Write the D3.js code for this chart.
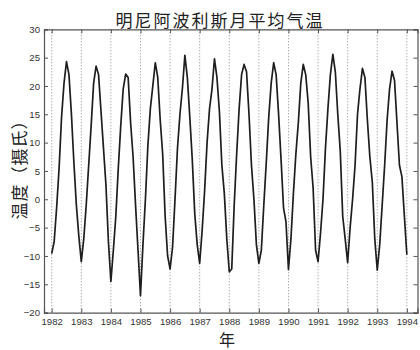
<!DOCTYPE html>
<html>
<head>
<meta charset="utf-8">
<script src="https://cdn.jsdelivr.net/npm/d3@7"></script>
<style>
  html, body { margin: 0; padding: 0; background: #fff; }
  svg { display: block; }
</style>
</head>
<body>
<svg id="chart" width="420" height="350"></svg>
<script>
// Monthly mean temperature (°C), January to December
const t1982 = [-9.6, -7.5, -1.5, 5.5, 14.5, 20.5, 24.3, 22.0, 15.0, 6.5, -1.0, -6.5];
const t1983 = [-11.0, -7.0, -1.0, 6.0, 13.0, 20.5, 23.5, 22.0, 15.5, 9.0, 2.5, -7.5];
const t1984 = [-14.5, -9.0, -3.0, 5.5, 13.0, 19.5, 22.1, 21.5, 13.5, 7.5, -1.0, -9.0];
const t1985 = [-17.0, -8.0, 0.0, 9.5, 16.0, 20.0, 24.1, 21.5, 14.0, 8.0, -3.0, -10.0];
const t1986 = [-12.3, -8.5, 0.0, 9.0, 15.0, 19.6, 25.4, 21.5, 14.5, 7.0, -2.5, -8.0];
const t1987 = [-11.3, -5.5, 1.5, 10.0, 16.0, 19.5, 24.8, 21.5, 15.5, 6.0, 1.0, -7.0];
const t1988 = [-12.8, -12.3, -1.0, 8.0, 16.0, 22.0, 23.8, 22.5, 15.0, 6.0, 0.0, -8.0];
const t1989 = [-11.3, -9.0, -1.0, 6.5, 14.5, 20.5, 24.1, 22.0, 15.0, 7.0, -1.5, -4.0];
const t1990 = [-12.4, -7.0, 1.0, 8.0, 13.5, 20.5, 23.8, 22.0, 17.0, 7.5, 2.0, -9.0];
const t1991 = [-11.0, -6.0, 0.0, 9.0, 16.0, 22.0, 25.6, 22.5, 15.0, 8.5, -3.0, -7.0];
const t1992 = [-11.2, -5.0, 0.0, 6.0, 15.0, 19.5, 23.1, 21.5, 14.0, 7.5, 3.0, -7.0];
const t1993 = [-12.5, -8.0, -1.0, 6.0, 14.0, 19.5, 22.6, 21.0, 13.5, 6.0, 4.0, -3.0];
const t1994 = [-9.8];

const years = [1982, 1983, 1984, 1985, 1986, 1987, 1988, 1989, 1990, 1991, 1992, 1993, 1994];
const yearSeries = [t1982, t1983, t1984, t1985, t1986, t1987, t1988, t1989, t1990, t1991, t1992, t1993, t1994];
const yTicks = [-20, -15, -10, -5, 0, 5, 10, 15, 20, 25, 30];

const titleText = "明尼阿波利斯月平均气温";
const xLabelText = "年";
const yLabelText = "温度（摄氏）";

// Flatten into (decimal year, value) points
const points = [];
yearSeries.forEach((arr, i) => {
  arr.forEach((v, m) => points.push({ t: years[i] + m / 12, v: v }));
});

const svg = d3.select("#chart");
const plotLeft = 44, plotRight = 417.5, plotTop = 29.3, plotBottom = 312.6;

const x = d3.scaleLinear().domain([1981.74, 1994.36]).range([plotLeft, plotRight]);
const y = d3.scaleLinear().domain([-20, 30]).range([plotBottom, plotTop]);

const cjk = "'Noto Sans CJK SC', 'Noto Sans', sans-serif";
const num = "'Liberation Sans', Arial, Helvetica, sans-serif";

// Dotted vertical grid at each year
svg.append("g")
  .selectAll("line")
  .data(years)
  .join("line")
  .attr("x1", d => x(d)).attr("x2", d => x(d))
  .attr("y1", plotTop).attr("y2", plotBottom)
  .attr("stroke", "#8a8a8a")
  .attr("stroke-width", 1)
  .attr("stroke-dasharray", "1,2");

// Temperature line
svg.append("path")
  .datum(points)
  .attr("fill", "none")
  .attr("stroke", "#1e1e1e")
  .attr("stroke-width", 1.7)
  .attr("stroke-linejoin", "round")
  .attr("d", d3.line().x(d => x(d.t)).y(d => y(d.v)));

// Axes with inward ticks
const axisColor = "#555";
const bottomAxis = svg.append("g")
  .attr("transform", `translate(0,${plotBottom})`)
  .call(d3.axisBottom(x).tickValues(years).tickFormat(d3.format("d")).tickSize(-4).tickPadding(6));
const leftAxis = svg.append("g")
  .attr("transform", `translate(${plotLeft},0)`)
  .call(d3.axisLeft(y).tickValues(yTicks).tickFormat(d => d < 0 ? "\u2212" + Math.abs(d) : d).tickSize(-4).tickPadding(4));
const topAxis = svg.append("g")
  .attr("transform", `translate(0,${plotTop})`)
  .call(d3.axisTop(x).tickValues(years).tickFormat("").tickSize(-4));
const rightAxis = svg.append("g")
  .attr("transform", `translate(${plotRight},0)`)
  .call(d3.axisRight(y).tickValues(yTicks).tickFormat("").tickSize(-4));

[bottomAxis, leftAxis, topAxis, rightAxis].forEach(g => {
  g.select(".domain").attr("stroke", axisColor).attr("stroke-width", 1.2);
  g.selectAll(".tick line").attr("stroke", axisColor);
  g.selectAll(".tick text")
    .attr("fill", "#333")
    .style("font-family", num)
    .style("font-size", "9.6px");
});

// Title
svg.append("text")
  .attr("x", 220).attr("y", 19)
  .attr("text-anchor", "middle")
  .attr("dominant-baseline", "central")
  .style("font-family", cjk)
  .style("font-size", "17px")
  .style("letter-spacing", "2px")
  .attr("fill", "#222")
  .text(titleText);

// Axis labels
svg.append("text")
  .attr("x", 227).attr("y", 338.5)
  .attr("text-anchor", "middle")
  .attr("dominant-baseline", "central")
  .style("font-family", cjk)
  .style("font-size", "16px")
  .attr("fill", "#222")
  .text(xLabelText);

svg.append("text")
  .attr("transform", "translate(18.5,165.5) rotate(-90)")
  .attr("text-anchor", "middle")
  .attr("dominant-baseline", "central")
  .style("font-family", cjk)
  .style("font-size", "17px")
  .style("letter-spacing", "1px")
  .attr("fill", "#222")
  .text(yLabelText);
</script>
</body>
</html>
